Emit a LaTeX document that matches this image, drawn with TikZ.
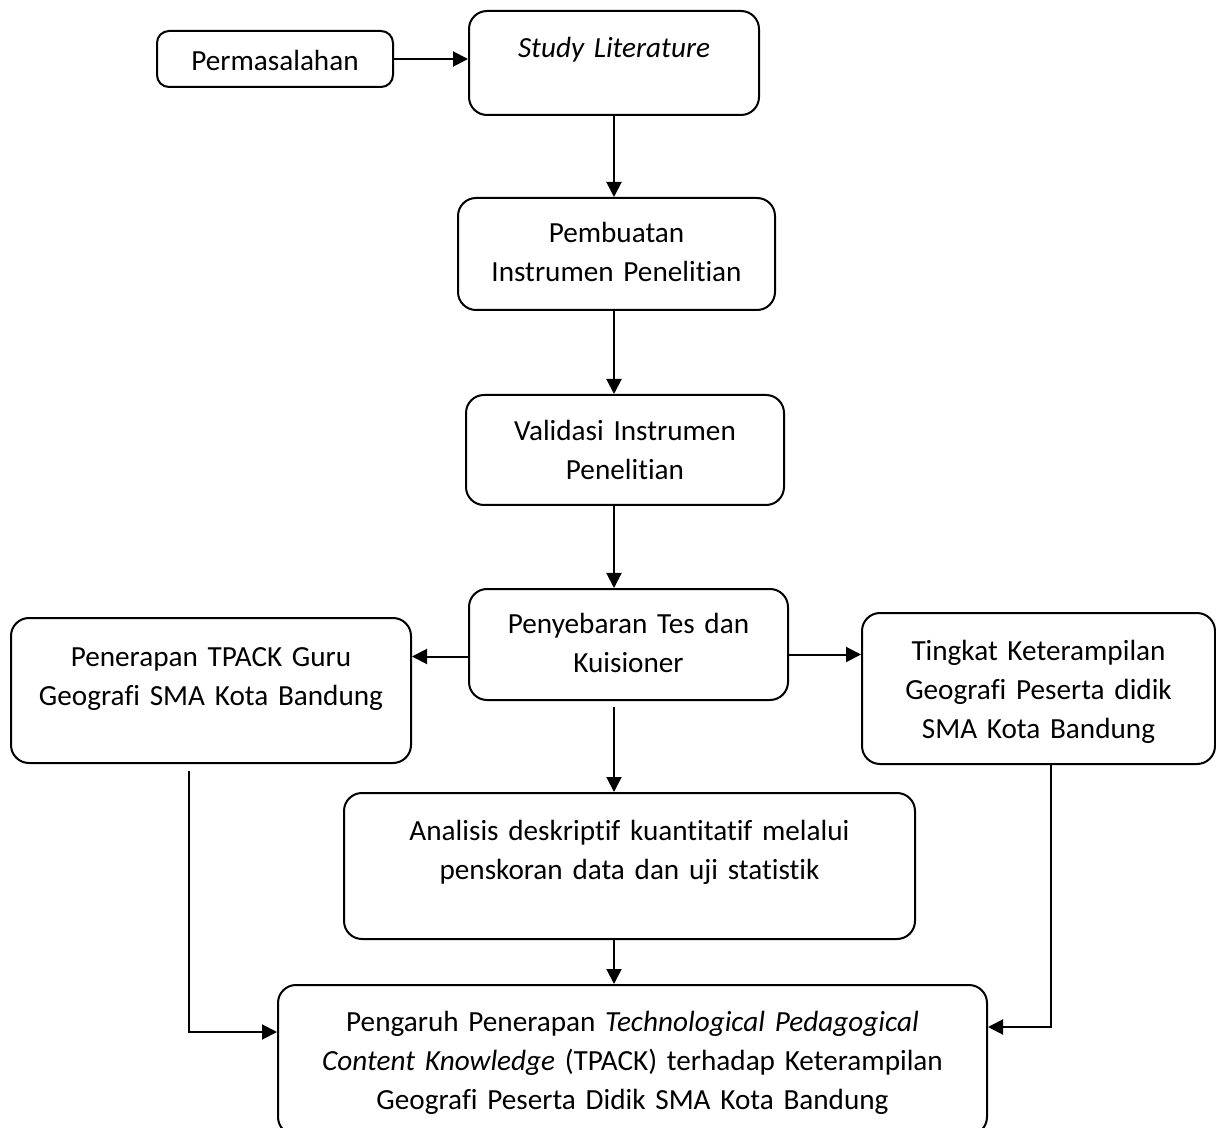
\documentclass[tikz,border=0pt]{standalone}
\usepackage{fontspec}
\setmainfont{Carlito}[Ligatures={NoCommon}]
\usetikzlibrary{arrows.meta}

\begin{document}
\begin{tikzpicture}[
  x=0.5pt, y=-0.5pt,
  box/.style={draw, line width=1pt, rounded corners=9pt, align=center, inner sep=0pt,
    font=\fontsize{14.6pt}{19.5pt}\selectfont},
  arrow/.style={-{Triangle[length=7.5pt, width=7.5pt]}, line width=1pt}
]
  \useasboundingbox (0,0) rectangle (1216,1128);

  % Main column
  \node[box, rounded corners=6pt, text width=118pt, text height=20pt, text depth=8pt] (perm) at (275, 59) {Permasalahan};
  \node[box, text width=145pt, text height=23.5pt, text depth=28.5pt] (study) at (614, 63) {\textit{Study Literature}};
  \node[box, text width=158.5pt, text height=22.5pt, text depth=33.5pt] (buat) at (616.5, 254) {Pembuatan\\Instrumen Penelitian};
  \node[box, text width=159pt, text height=23pt, text depth=32pt] (valid) at (625, 450) {Validasi Instrumen\\Penelitian};
  \node[box, text width=159.5pt, text height=22pt, text depth=33.5pt] (sebar) at (628.5, 644.5) {Penyebaran Tes dan\\Kuisioner};

  % Side branches
  \node[box, text width=200pt, text height=24pt, text depth=48.5pt] (terap) at (211, 690.5) {Penerapan TPACK Guru\\Geografi SMA Kota Bandung};
  \node[box, text width=176.5pt, text height=24pt, text depth=51.5pt] (tingkat) at (1038.5, 688.5) {Tingkat Keterampilan\\Geografi Peserta didik\\SMA Kota Bandung};

  % Analysis and result
  \node[box, text width=285.5pt, text height=23.5pt, text depth=49.5pt] (analisis) at (629.5, 866) {Analisis deskriptif kuantitatif melalui\\penskoran data dan uji statistik};
  \node[box, text width=354.5pt, text height=23pt, text depth=52pt] (hasil) at (632.5, 1060) {Pengaruh Penerapan \textit{Technological Pedagogical}\\\textit{Content Knowledge} (TPACK) terhadap Keterampilan\\Geografi Peserta Didik SMA Kota Bandung};

  \coordinate (spine) at (614, 0);
  \coordinate (joinL) at (189, 1032);
  \coordinate (joinR) at (1051, 1027);

  \draw[arrow] (perm.east) -- (perm.east -| study.west);
  \draw[arrow] (study.south -| spine) -- (buat.north -| spine);
  \draw[arrow] (buat.south -| spine) -- (valid.north -| spine);
  \draw[arrow] (valid.south -| spine) -- (sebar.north -| spine);
  \draw[arrow] ([yshift=-6pt]sebar.west) -- ([yshift=-6pt]sebar.west -| terap.east);
  \draw[arrow] ([yshift=-5pt]sebar.east) -- ([yshift=-5pt]sebar.east -| tingkat.west);
  \draw[arrow] ([yshift=-3pt]sebar.south -| spine) -- (analisis.north -| spine);
  \draw[arrow] (analisis.south -| spine) -- (hasil.north -| spine);

  % Branches into the result
  \draw[arrow] ([yshift=-3.5pt]terap.south -| joinL) |- (hasil.west |- joinL);
  \draw[arrow] (tingkat.south -| joinR) |- (hasil.east |- joinR);
\end{tikzpicture}
\end{document}
